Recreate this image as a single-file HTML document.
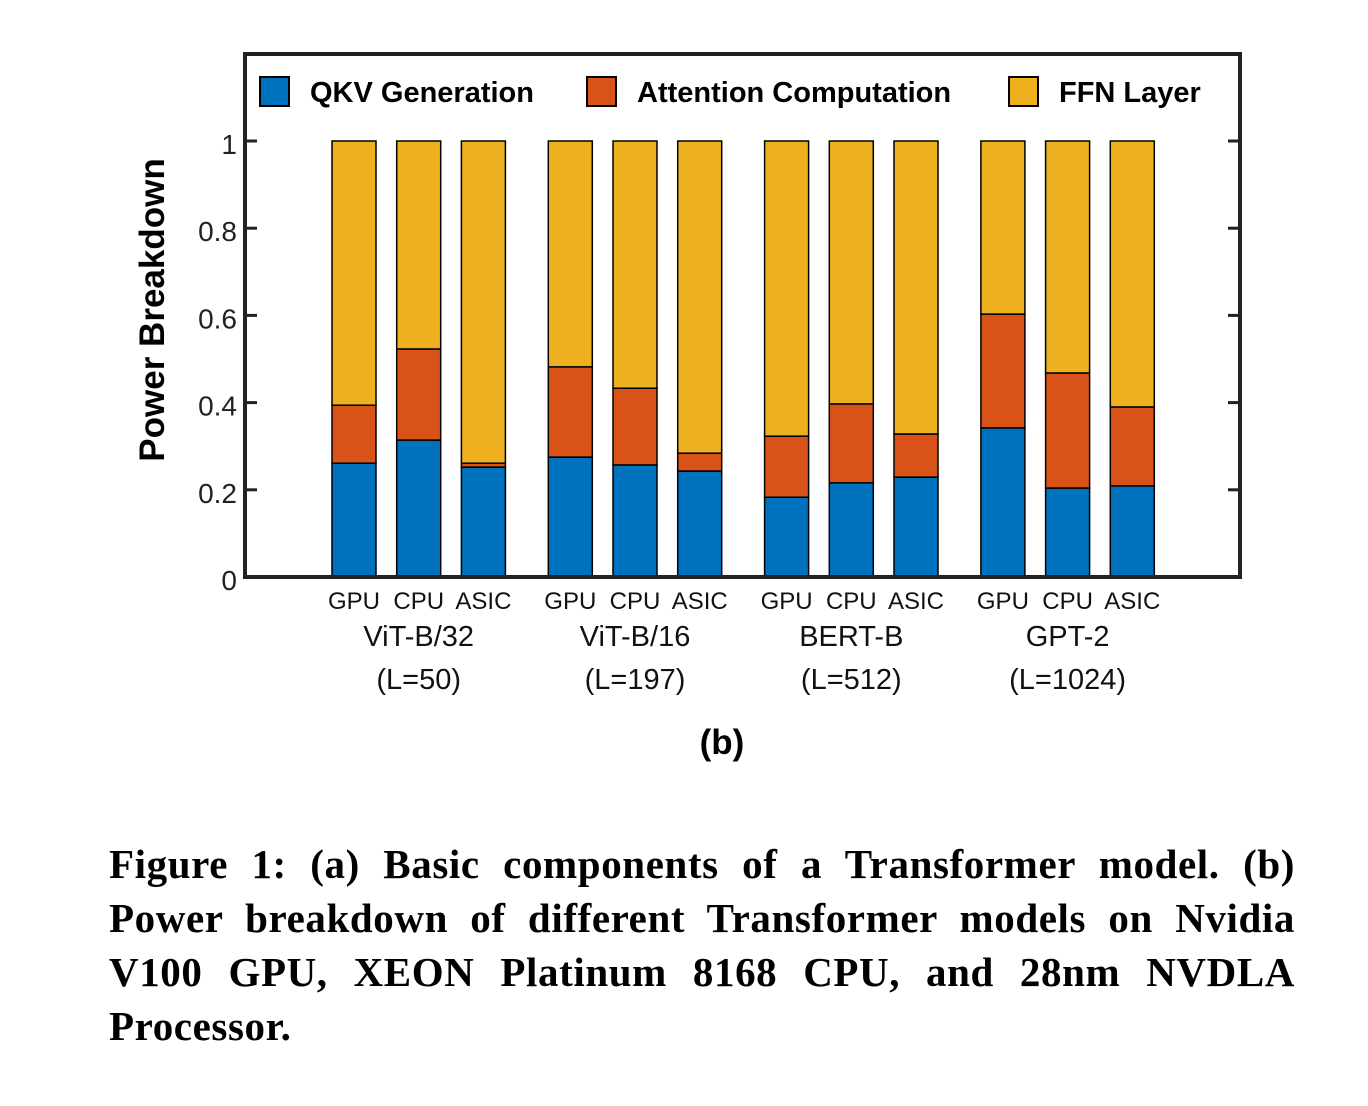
<!DOCTYPE html>
<html><head><meta charset="utf-8"><style>
body{margin:0;background:#fff;width:1368px;height:1106px;overflow:hidden;position:relative}
.cap{position:absolute;left:109px;width:1186px;font-family:"Liberation Serif",serif;font-weight:bold;font-size:41px;letter-spacing:0.6px;line-height:54px;color:#000}
.cap div{text-align:justify;text-align-last:justify;white-space:nowrap}
.cap div.last{text-align-last:left}
</style></head><body>
<svg id="chart" width="1368" height="800" style="position:absolute;left:0;top:0" font-family="Liberation Sans, sans-serif"></svg>
<div class="cap" style="top:837px">
<div>Figure 1: (a) Basic components of a Transformer model. (b)</div>
<div>Power breakdown of different Transformer models on Nvidia</div>
<div>V100 GPU, XEON Platinum 8168 CPU, and 28nm NVDLA</div>
<div class="last">Processor.</div>
</div>
<script>
const groups=["ViT-B/32","ViT-B/16","BERT-B","GPT-2"];
const groupSub=["(L=50)","(L=197)","(L=512)","(L=1024)"];
const platforms=["GPU","CPU","ASIC"];
const qkv=[0.261,0.314,0.252, 0.275,0.257,0.243, 0.183,0.216,0.229, 0.342,0.204,0.209];
const attn=[0.133,0.209,0.009, 0.207,0.176,0.041, 0.140,0.181,0.099, 0.261,0.264,0.181];
const ffn=[0.606,0.477,0.739, 0.518,0.567,0.716, 0.677,0.603,0.672, 0.397,0.532,0.610];
const yTicks=[0,0.2,0.4,0.6,0.8,1];
const yTickLabels=["0","0.2","0.4","0.6","0.8","1"];
const colors=["#0072BD","#D95319","#EDB120"];
const NS="http://www.w3.org/2000/svg";
const svg=document.getElementById('chart');
function el(t,a,p){const e=document.createElementNS(NS,t);for(const k in a)e.setAttribute(k,a[k]);(p||svg).appendChild(e);return e;}
const y0=577,y1=141;
const y=v=>y0-(y1-y0)*-v;
const x=i=>{const g=Math.floor(i/3),k=i%3;return 332+g*216.3+k*64.7;};
const bw=44;
for(let i=0;i<qkv.length;i++){
  const segs=[qkv[i],attn[i],ffn[i]];let acc=0;
  const names=['qkv','attention','ffn'];
  segs.forEach((v,s)=>{
    const r=el('rect',{x:x(i),y:y(acc+v),width:bw,height:y(acc)-y(acc+v),fill:colors[s],stroke:'#000','stroke-width':1.5});
    
    
    acc+=v;
  });
  const t=el('text',{x:x(i)+bw/2,y:609,'text-anchor':'middle','font-size':24,fill:'#111'});
  t.textContent=platforms[i%3];
  
  
}
groups.forEach((g,j)=>{
  const cx=x(j*3+1)+bw/2;
  const t=el('text',{x:cx,y:646,'text-anchor':'middle','font-size':29,fill:'#111'});t.textContent=g;
  
  
  const t2=el('text',{x:cx,y:689,'text-anchor':'middle','font-size':29,fill:'#111'});t2.textContent=groupSub[j];
  
  
});
const box=el('rect',{x:245,y:54,width:995,height:523,fill:'none',stroke:'#222','stroke-width':4});


yTicks.forEach((v,i)=>{
  el('line',{x1:245,x2:257,y1:y(v),y2:y(v),stroke:'#222','stroke-width':3});
  el('line',{x1:1228,x2:1240,y1:y(v),y2:y(v),stroke:'#222','stroke-width':3});
  const t=el('text',{x:237,y:y(v)+13,'text-anchor':'end','font-size':28,fill:'#222'});t.textContent=yTickLabels[i];
  
  
});
const yt=el('text',{transform:'translate(164,310) rotate(-90)','text-anchor':'middle','font-size':35,'font-weight':'bold',fill:'#000'});
yt.textContent='Power Breakdown';


const leg=[["QKV Generation",260],["Attention Computation",587],["FFN Layer",1009]];
leg.forEach((l,i)=>{
  const r=el('rect',{x:l[1],y:77,width:29,height:29,fill:colors[i],stroke:'#000','stroke-width':2});
  
  
  const t=el('text',{x:l[1]+50,y:102,'font-size':29,'font-weight':'bold',fill:'#000'});t.textContent=l[0];
  
  
});
const sb=el('text',{x:722,y:754,'text-anchor':'middle','font-size':35,'font-weight':'bold',fill:'#000'});
sb.textContent='(b)';


</script>
</body></html>
